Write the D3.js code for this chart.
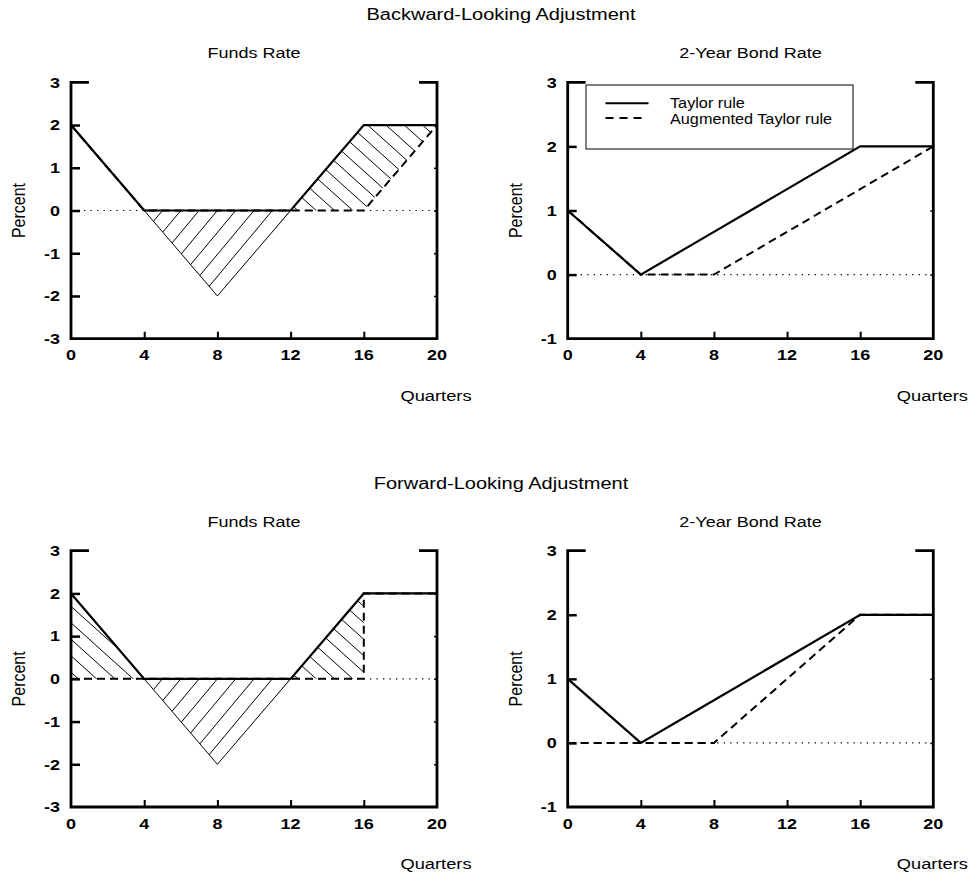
<!DOCTYPE html>
<html><head><meta charset="utf-8">
<script src="https://cdn.jsdelivr.net/npm/d3@7"></script>
<style>
body{margin:0;background:#fff}
svg{display:block}
text{font-family:"Liberation Sans",Arial,Helvetica,sans-serif;fill:#000}
</style>
</head><body><div id="chart"></div>
<script>
// ---------- data ----------
const quarters = [0, 4, 8, 12, 16, 20];
const blFundsTaylor    = [2, 0, 0, 0, 2, 2];
const blFundsAugmented = [2, 0, 0, 0, 0, 2];
const blFundsUnbounded = [2, 0, -2, 0, 2, 2];
const blBondTaylor     = [1, 0, 0.667, 1.333, 2, 2];
const blBondAugmented  = [1, 0, 0, 0.667, 1.333, 2];
const flFundsTaylor    = [2, 0, 0, 0, 2, 2];
const flFundsAugQuarters = [0, 4, 8, 12, 16, 16, 20];
const flFundsAugmented = [0, 0, 0, 0, 0, 2, 2];
const flFundsUnbounded = [2, 0, -2, 0, 2, 2];
const flBondTaylor     = [1, 0, 0.667, 1.333, 2, 2];
const flBondAugmented  = [0, 0, 0, 1, 2, 2];
const fundsTicks = [-3, -2, -1, 0, 1, 2, 3];
const bondTicks  = [-1, 0, 1, 2, 3];
const xTicks     = [0, 4, 8, 12, 16, 20];
const sectionTitles = ["Backward-Looking Adjustment", "Forward-Looking Adjustment"];
const panelTitles = ["Funds Rate", "2-Year Bond Rate"];
const legendLabels = ["Taylor rule", "Augmented Taylor rule"];

// ---------- layout ----------
const W = 972, H = 878;
const SX = 1.2; // horizontal text stretch
const pts = (xs, ys) => xs.map((x, i) => ({x, y: ys[i]}));

const panels = [
  {left: 71, right: 437, top: 82.3, bottom: 338.7, yTicks: fundsTicks, title: panelTitles[0],
   taylor: pts(quarters, blFundsTaylor), aug: pts(quarters, blFundsAugmented), unb: pts(quarters, blFundsUnbounded),
   hatches: [{a: "unb", b: "taylor", x0: 4, x1: 12, dir: "/"}, {a: "taylor", b: "aug", x0: 12, x1: 20, dir: "\\"}]},
  {left: 567.7, right: 933.3, top: 82.3, bottom: 338.7, yTicks: bondTicks, title: panelTitles[1],
   taylor: pts(quarters, blBondTaylor), aug: pts(quarters, blBondAugmented), legend: true, hatches: []},
  {left: 71, right: 437, top: 550.7, bottom: 807, yTicks: fundsTicks, title: panelTitles[0],
   taylor: pts(quarters, flFundsTaylor), aug: pts(flFundsAugQuarters, flFundsAugmented), unb: pts(quarters, flFundsUnbounded),
   hatches: [{a: "taylor", b: "aug", x0: 0, x1: 4, dir: "\\"}, {a: "unb", b: "taylor", x0: 4, x1: 12, dir: "/"},
             {a: "taylor", b: "aug", x0: 12, x1: 16, dir: "\\"}]},
  {left: 567.7, right: 933.3, top: 550.7, bottom: 807, yTicks: bondTicks, title: panelTitles[1],
   taylor: pts(quarters, flBondTaylor), aug: pts(quarters, flBondAugmented), hatches: []}
];

const svg = d3.select("#chart").append("svg").attr("width", W).attr("height", H);
const defs = svg.append("defs");

function stretchText(g, x, y, str, size, anchor, weight, sx) {
  return g.append("text")
    .attr("transform", `translate(${x},${y}) scale(${sx || SX},1)`)
    .attr("text-anchor", anchor || "middle")
    .attr("font-size", size)
    .attr("font-weight", weight || "normal")
    .text(str);
}

// section titles
stretchText(svg, 501, 20, sectionTitles[0], 16, "middle", "normal", 1.25);
stretchText(svg, 501, 489, sectionTitles[1], 16, "middle", "normal", 1.25);

panels.forEach((p, pi) => {
  const x = d3.scaleLinear().domain([0, 20]).range([p.left, p.right]);
  const y = d3.scaleLinear().domain([p.yTicks[0], p.yTicks[p.yTicks.length - 1]]).range([p.bottom, p.top]);
  const g = svg.append("g");

  // title
  stretchText(g, (p.left + p.right) / 2, p.top - 24, p.title, 15, "middle", "normal", 1.2);

  // Percent label
  g.append("text")
    .attr("transform", `translate(${p.left - 46},${(p.top + p.bottom) / 2}) rotate(-90) scale(1,1.15)`)
    .attr("text-anchor", "middle").attr("font-size", 16).text("Percent");
  // Quarters label
  stretchText(g, p.right - 1, p.bottom + 62, "Quarters", 15.5, "middle", "normal", 1.18);

  // zero dotted line
  g.append("line")
    .attr("x1", x(0)).attr("x2", x(20)).attr("y1", y(0)).attr("y2", y(0))
    .attr("stroke", "#000").attr("stroke-width", 1.2).attr("stroke-dasharray", "1.3,5.2");

  // hatches
  p.hatches.forEach((h, hi) => {
    const A = p[h.a].filter(d => d.x >= h.x0 && d.x <= h.x1);
    const B = p[h.b].filter(d => d.x >= h.x0 && d.x <= h.x1).slice().reverse();
    const poly = A.concat(B).map(d => [x(d.x), y(d.y)]);
    const id = `clip${pi}_${hi}`;
    defs.append("clipPath").attr("id", id).append("path").attr("d", "M" + poly.join("L") + "Z");
    const hg = g.append("g").attr("clip-path", `url(#${id})`);
    const m = h.dir === "/" ? 1.2 : 0.9;
    const phase = h.dir === "/" ? 0 : 0.4;
    const y0 = y(0), L = 300;
    const ks = d3.range(-30, 50);
    hg.selectAll("line").data(ks).join("line")
      .attr("x1", k => x(k + phase) - L)
      .attr("x2", k => x(k + phase) + L)
      .attr("y1", k => h.dir === "/" ? y0 + L * m : y0 - L * m)
      .attr("y2", k => h.dir === "/" ? y0 - L * m : y0 + L * m)
      .attr("stroke", "#000").attr("stroke-width", 1);
  });

  const line = d3.line().x(d => x(d.x)).y(d => y(d.y));
  // unbounded V outline
  if (p.unb) {
    g.append("path").datum(p.unb.filter(d => d.x >= 4 && d.x <= 12)).attr("d", line)
      .attr("fill", "none").attr("stroke", "#000").attr("stroke-width", 1);
  }
  // augmented (dashed)
  g.append("path").datum(p.aug).attr("d", line)
    .attr("fill", "none").attr("stroke", "#000").attr("stroke-width", 2).attr("stroke-dasharray", "8,5");
  // taylor (solid)
  g.append("path").datum(p.taylor).attr("d", line)
    .attr("fill", "none").attr("stroke", "#000").attr("stroke-width", 2.2).attr("stroke-linejoin", "miter");

  // axes
  const yMin = p.yTicks[0], yMax = p.yTicks[p.yTicks.length - 1];
  const inner = p.yTicks.filter(v => v !== yMin && v !== yMax);
  const axL = g.append("g").attr("transform", `translate(${p.left},0)`)
    .call(d3.axisLeft(y).tickValues(inner).tickSize(-9).tickFormat(""));
  const axR = g.append("g").attr("transform", `translate(${p.right},0)`)
    .call(d3.axisRight(y).tickValues(inner).tickSize(-3).tickFormat(""));
  const axB = g.append("g").attr("transform", `translate(0,${p.bottom})`)
    .call(d3.axisBottom(x).tickValues(xTicks.slice(1, -1)).tickSize(-7).tickFormat(""));
  [axL, axR, axB].forEach(a => { a.select(".domain").remove(); });
  axL.selectAll(".tick line").attr("stroke-width", 2.5);
  axR.selectAll(".tick line").attr("stroke-width", 1.5);
  axB.selectAll(".tick line").attr("stroke-width", 2);

  // frame
  const frame = `M${p.left + 18},${p.top}H${p.left}V${p.bottom}H${p.right}V${p.top}H${p.right - 18}`;
  g.append("path").attr("d", frame).attr("fill", "none").attr("stroke", "#000")
    .attr("stroke-width", 2.8).attr("stroke-linejoin", "miter").attr("stroke-linecap", "butt");

  // tick labels
  p.yTicks.forEach(v => stretchText(g, p.left - 11, y(v) + 5.3, String(v), 15, "end", "bold", 1.2));
  xTicks.forEach(v => stretchText(g, x(v), p.bottom + 21.5, String(v), 15, "middle", "bold", 1.2));

  // legend
  if (p.legend) {
    const lx = 586, ly = 85, lw = 267, lh = 64;
    g.append("rect").attr("x", lx).attr("y", ly).attr("width", lw).attr("height", lh)
      .attr("fill", "#fff").attr("stroke", "#000").attr("stroke-width", 1);
    g.append("line").attr("x1", 605.5).attr("x2", 648.5).attr("y1", 103.3).attr("y2", 103.3)
      .attr("stroke", "#000").attr("stroke-width", 2);
    g.append("line").attr("x1", 605.5).attr("x2", 642).attr("y1", 118).attr("y2", 118)
      .attr("stroke", "#000").attr("stroke-width", 2).attr("stroke-dasharray", "8,6");
    stretchText(g, 670, 108, legendLabels[0], 14, "start", "normal", 1.16);
    stretchText(g, 670, 123.5, legendLabels[1], 14, "start", "normal", 1.16);
  }
});
</script>
</body></html>
